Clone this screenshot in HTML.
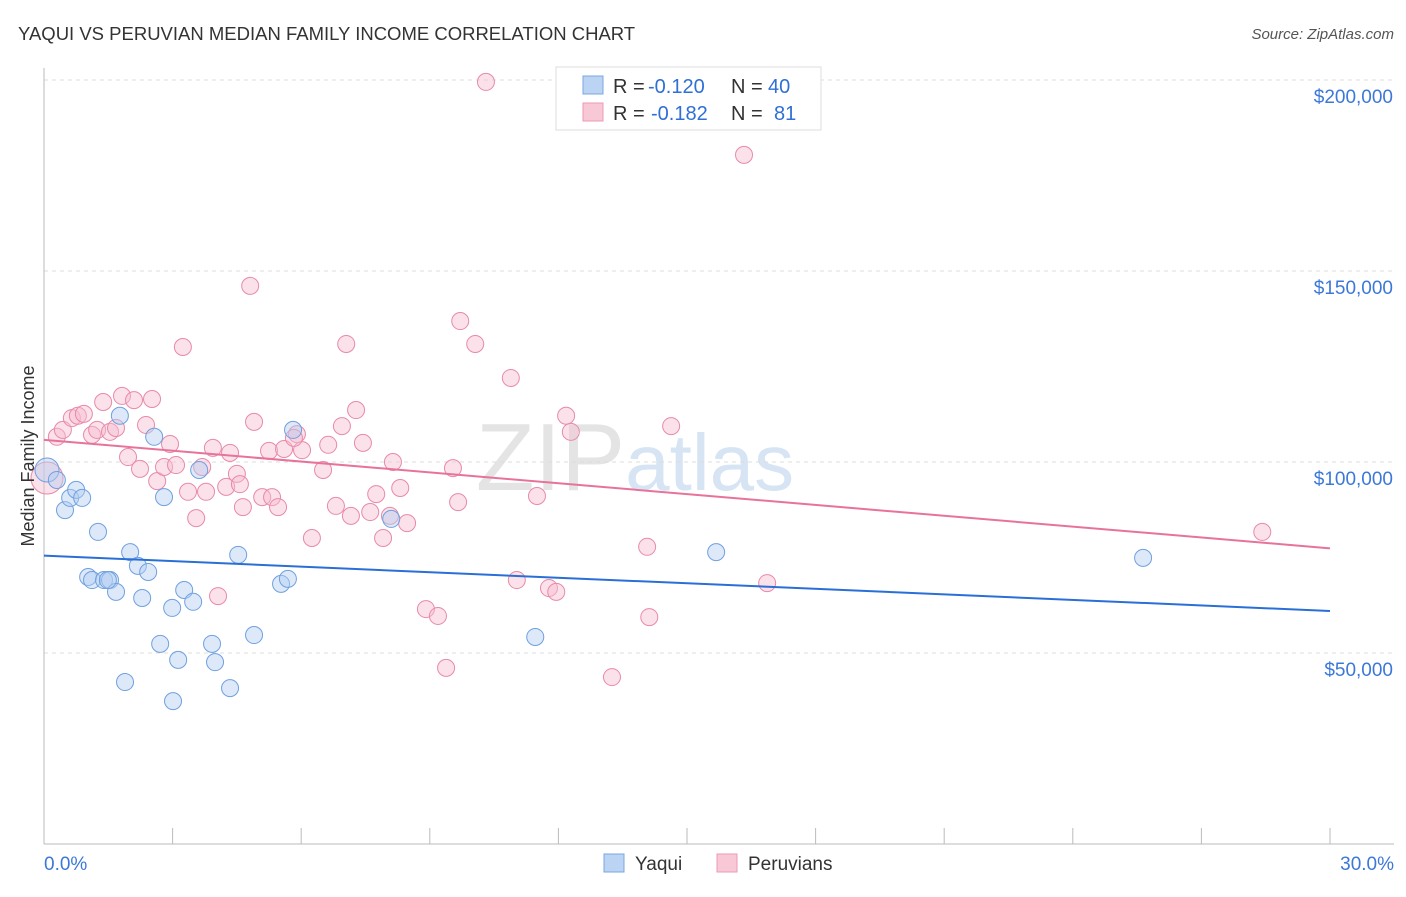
<!DOCTYPE html>
<html><head><meta charset="utf-8"><style>
body{margin:0;background:#fff;font-family:"Liberation Sans",sans-serif;}
svg text{font-family:"Liberation Sans",sans-serif;}
</style></head><body>
<svg id="chart" width="1406" height="892" viewBox="0 0 1406 892">
<text x="18" y="40" font-size="18.5" fill="#333">YAQUI VS PERUVIAN MEDIAN FAMILY INCOME CORRELATION CHART</text>
<text x="1394" y="39" font-size="15" fill="#555" text-anchor="end" font-style="italic">Source: ZipAtlas.com</text>
<text x="635" y="490" font-size="96" fill="#e4e4e4" text-anchor="middle" font-family="Liberation Serif,serif">ZIP<tspan fill="#d6e4f4" font-family="Liberation Sans,sans-serif" font-size="80">atlas</tspan></text>
<g id="grid"></g>
<g id="axes"></g>
<g id="pts"></g>
<g id="lines"></g>
<text transform="translate(34,456) rotate(-90)" font-size="18" fill="#333" text-anchor="middle">Median Family Income</text>
<g>
<rect x="556" y="67" width="265" height="63" fill="#fff" stroke="#ddd"/>
<rect x="583" y="76" width="20" height="18" fill="#bcd4f4" stroke="#7aa6e0"/>
<text x="613" y="93" font-size="20" fill="#333">R =</text>
<text x="648" y="93" font-size="20" fill="#2f6fd6">-0.120</text>
<text x="731" y="93" font-size="20" fill="#333">N =</text>
<text x="768" y="93" font-size="20" fill="#2f6fd6">40</text>
<rect x="583" y="103" width="20" height="18" fill="#f9c8d6" stroke="#ea9ab4"/>
<text x="613" y="120" font-size="20" fill="#333">R =</text>
<text x="651" y="120" font-size="20" fill="#2f6fd6">-0.182</text>
<text x="731" y="120" font-size="20" fill="#333">N =</text>
<text x="774" y="120" font-size="20" fill="#2f6fd6">81</text>
</g>
<g>
<rect x="604" y="854" width="20" height="18" fill="#bcd4f4" stroke="#7aa6e0"/>
<text x="635" y="870" font-size="19" fill="#333">Yaqui</text>
<rect x="717" y="854" width="20" height="18" fill="#f9c8d6" stroke="#ea9ab4"/>
<text x="748" y="870" font-size="19" fill="#333">Peruvians</text>
</g>
</svg>
<script>
const yaquiX=[0.07,0.30,0.49,0.61,0.75,0.89,1.26,1.03,1.12,1.40,1.54,1.68,1.77,2.01,2.19,2.29,2.43,2.57,2.80,2.99,3.01,3.13,3.27,3.48,3.62,3.92,3.99,4.34,4.53,4.90,5.53,5.69,5.81,8.10,11.46,15.68,25.64,1.89,2.71,1.49];
const yaquiY=[97.9,95.3,87.4,90.6,92.7,90.6,81.7,69.9,69.1,69.1,69.1,66.0,112.1,76.4,72.8,64.4,71.2,106.6,90.8,61.8,37.4,48.2,66.5,63.4,97.9,52.4,47.6,40.8,75.7,54.7,68.1,69.4,108.4,85.1,54.2,76.4,74.9,42.4,52.4,69.1];
const peruX=[0.07,0.30,0.44,0.65,0.79,0.93,1.12,1.24,1.38,1.54,1.68,1.82,1.96,2.10,2.24,2.38,2.52,2.64,2.80,2.94,3.08,3.24,3.36,3.55,3.69,3.78,3.94,4.06,4.25,4.34,4.50,4.64,4.81,4.90,5.09,5.25,5.32,5.46,5.60,5.90,6.02,6.25,6.51,6.63,6.81,6.95,7.05,7.16,7.28,7.44,7.61,7.75,7.91,8.07,8.14,8.31,8.47,8.91,9.19,9.38,9.54,9.66,9.71,10.06,10.31,10.89,11.03,11.50,11.78,11.95,12.18,12.29,13.25,14.07,14.12,14.63,16.33,16.87,28.42,5.83,4.57];
const peruY=[95.8,106.6,108.4,111.5,112.1,112.6,107.1,108.4,115.7,107.9,108.9,117.3,101.3,116.2,98.2,109.7,116.5,95.0,98.7,104.7,99.2,130.1,92.2,85.3,98.7,92.2,103.7,64.9,93.5,102.4,96.9,88.2,146.1,110.5,90.8,102.9,90.8,88.2,103.4,107.3,103.1,80.1,97.9,104.5,88.5,109.4,130.9,85.9,113.6,105.0,86.9,91.6,80.1,85.9,100.0,93.2,84.0,61.5,59.7,46.1,98.4,89.5,136.9,130.9,199.5,122.0,69.1,91.1,67.0,66.0,112.1,107.9,43.7,77.8,59.4,109.4,180.4,68.3,81.7,106.3,94.2];
const yaquiTrend=[75.5,61.0];
const peruTrend=[105.8,77.4];
const yTicks=[50,100,150,200];
const yTickLabels=["$50,000","$100,000","$150,000","$200,000"];
const xTicks=[0,3,6,9,12,15,18,21,24,27,30];
const NS='http://www.w3.org/2000/svg';
const X=v=>44+v/30*1286;
const Y=v=>844-v/50*191;
function mk(t,a,p){const e=document.createElementNS(NS,t);for(const k in a)e.setAttribute(k,a[k]);p.appendChild(e);return e;}
const grid=document.getElementById('grid'),axes=document.getElementById('axes'),pts=document.getElementById('pts'),lines=document.getElementById('lines');
yTicks.forEach((v,i)=>{
 const l=mk('line',{x1:44,x2:1394,y1:Y(v),y2:Y(v),stroke:'#ddd','stroke-dasharray':'4,4'},grid);
 
 
 const t=mk('text',{x:1393,y:Y(v)+23,'font-size':19,fill:'#3c78d8','text-anchor':'end'},axes);
 t.textContent=yTickLabels[i];
 
 
});
const ax=mk('line',{x1:44,x2:1394,y1:844,y2:844,stroke:'#bbb'},axes);


const ay=mk('line',{x1:44,x2:44,y1:68,y2:844,stroke:'#bbb'},axes);


xTicks.forEach(v=>{
 const l=mk('line',{x1:X(v),x2:X(v),y1:828,y2:844,stroke:'#bbb'},axes);
 
 
});
[[0,'0.0%','start',44],[30,'30.0%','end',1394]].forEach(d=>{
 const t=mk('text',{x:d[3],y:870,'font-size':19,fill:'#3c78d8','text-anchor':d[2]},axes);
 t.textContent=d[1];
 
 
});
function dots(xs,ys,fill,stroke,name){
 xs.forEach((x,i)=>{
  const r=(i===0)?(name==='peruvian-point'?16:12):8.5;
  const c=mk('circle',{cx:X(x),cy:Y(ys[i]),r:r,fill:fill,'fill-opacity':0.45,stroke:stroke,'stroke-width':1},pts);
  
  
 });
}
dots(peruX,peruY,'#f7bcd0','#e88aa8','peruvian-point');
dots(yaquiX,yaquiY,'#b4cff2','#6fa0e0','yaqui-point');
const lb=mk('line',{x1:X(0),y1:Y(yaquiTrend[0]),x2:X(30),y2:Y(yaquiTrend[1]),stroke:'#2a6fd6','stroke-width':2},lines);


const lp=mk('line',{x1:X(0),y1:Y(peruTrend[0]),x2:X(30),y2:Y(peruTrend[1]),stroke:'#e8739a','stroke-width':2},lines);


</script>
</body></html>
